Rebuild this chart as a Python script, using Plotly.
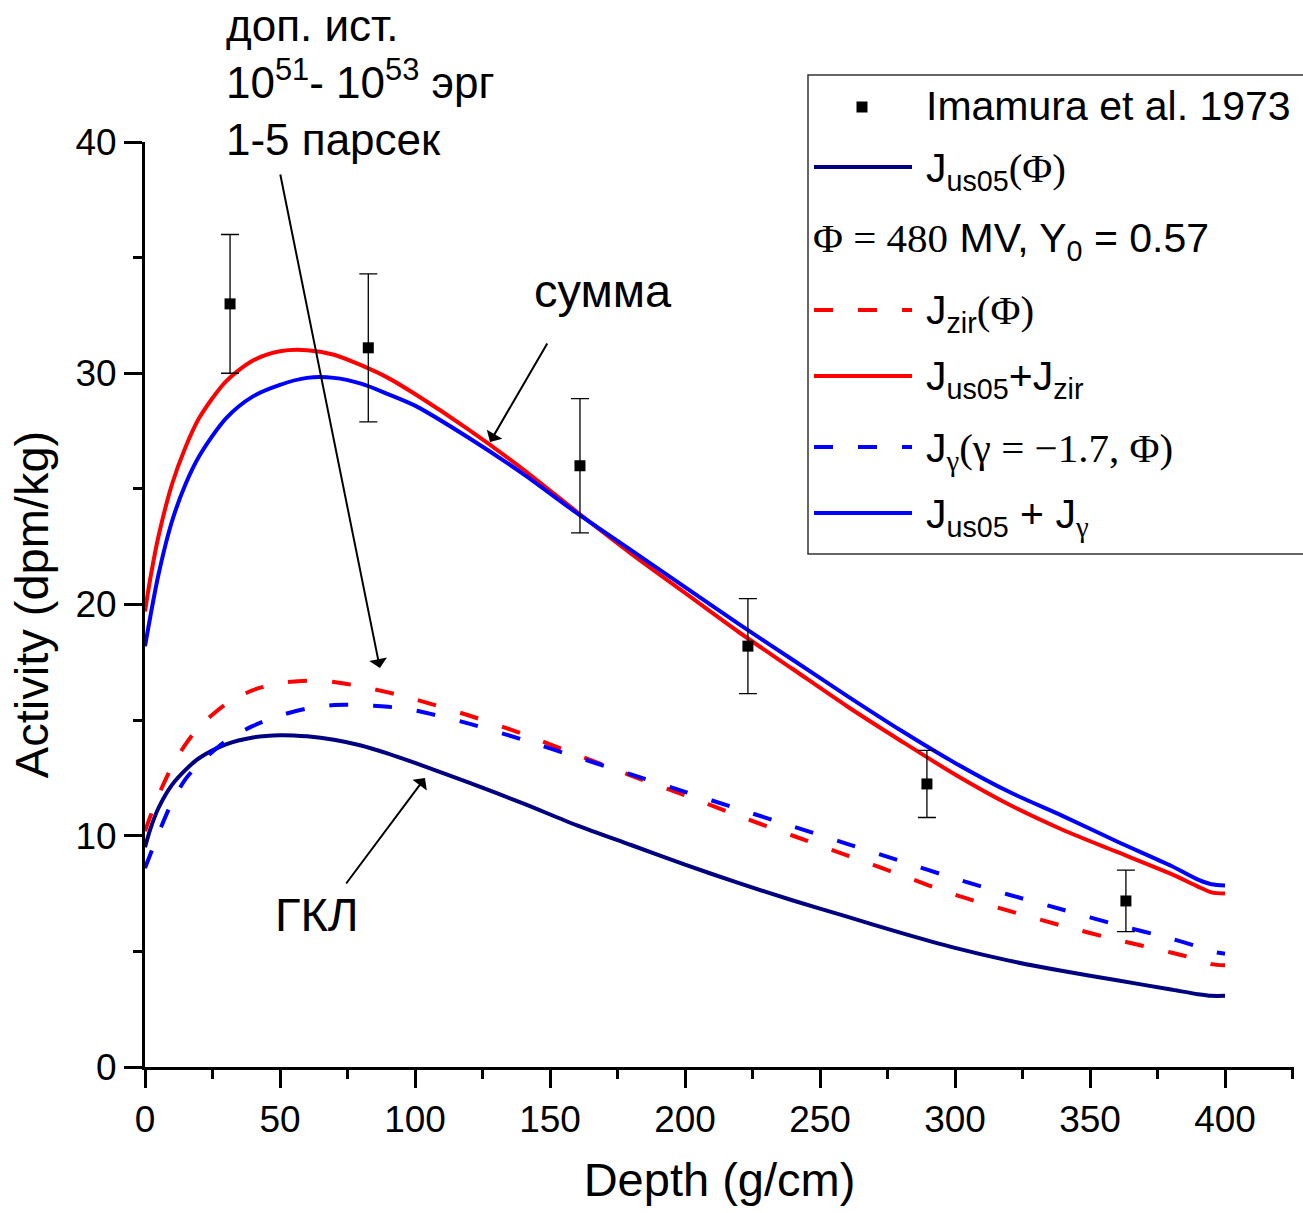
import plotly.graph_objects as go

# ---------------- data ----------------
depth = [0, 2, 5, 10, 15, 20, 30, 40, 50, 60, 70, 80, 90, 100, 120, 140, 160, 180,
         200, 220, 240, 260, 280, 300, 320, 340, 360, 380, 390, 395, 400]

act_us05 = [9.5, 10.3, 11.2, 12.2, 12.85, 13.35, 13.95, 14.25, 14.35, 14.3, 14.15, 13.9,
            13.55, 13.15, 12.3, 11.4, 10.45, 9.6, 8.75, 7.95, 7.2, 6.5, 5.8, 5.15, 4.6,
            4.15, 3.75, 3.35, 3.15, 3.08, 3.08]

act_zir = [10.2, 10.85, 11.75, 13.0, 13.95, 14.7, 15.7, 16.3, 16.6, 16.7, 16.65, 16.45,
           16.2, 15.9, 15.2, 14.4, 13.5, 12.6, 11.75, 10.85, 10.0, 9.15, 8.3, 7.45, 6.75,
           6.1, 5.5, 4.95, 4.65, 4.45, 4.4]

act_us05_zir = [19.7, 21.15, 22.95, 25.2, 26.8, 28.05, 29.65, 30.55, 30.95, 31.0, 30.8, 30.35,
                29.8, 29.1, 27.55, 25.85, 24.0, 22.2, 20.5, 18.8, 17.2, 15.6, 14.1, 12.65,
                11.35, 10.25, 9.3, 8.35, 7.8, 7.55, 7.5]

act_gamma = [8.6, 9.2, 10.1, 11.45, 12.45, 13.1, 14.1, 14.75, 15.2, 15.5, 15.65, 15.65,
             15.58, 15.42, 14.85, 14.15, 13.4, 12.65, 11.9, 11.15, 10.4, 9.65, 8.9, 8.15,
             7.45, 6.8, 6.15, 5.55, 5.2, 5.0, 4.9]

act_us05_gamma = [18.2, 19.5, 21.3, 23.6, 25.2, 26.4, 28.05, 29.0, 29.5, 29.8, 29.8, 29.55,
                  29.1, 28.6, 27.2, 25.65, 23.95, 22.35, 20.75, 19.15, 17.6, 16.05, 14.55,
                  13.15, 11.9, 10.85, 9.75, 8.7, 8.1, 7.9, 7.85]

imamura_depth = [31.5, 82.7, 161.1, 223.3, 289.6, 363.3]
imamura_activity = [33.0, 31.1, 26.0, 18.2, 12.24, 7.18]
imamura_err = [3.0, 3.2, 2.9, 2.05, 1.45, 1.33]

x_ticks = [0, 50, 100, 150, 200, 250, 300, 350, 400]
y_ticks = [0, 10, 20, 30, 40]

# ---------------- layout geometry ----------------
W, H = 1303, 1213
L, R, T, B = 145, 9, 142, 146
PW = W - L - R
PH = H - T - B

def px(x):
    return (x - L) / PW

def py(y):
    return (H - B - y) / PH

SANS = "Liberation Sans"
SERIF = "Liberation Serif"
NB = "\u00a0"

def serif(s):
    return f'<span style="font-family:{SERIF}">{s}</span>'

NAVY = "#000080"
RED = "#FF0000"
BLUE = "#0000FF"
DASH = "19px,25px"

fig = go.Figure()

curves = [
    (act_us05, NAVY, "solid"),
    (act_zir, RED, DASH),
    (act_us05_zir, RED, "solid"),
    (act_gamma, BLUE, DASH),
    (act_us05_gamma, BLUE, "solid"),
]
for vals, col, dash in curves:
    fig.add_trace(go.Scatter(
        x=depth, y=vals, mode="lines",
        line=dict(color=col, width=4, dash=dash, shape="spline", smoothing=0.8),
        showlegend=False, hoverinfo="skip"))

fig.add_trace(go.Scatter(
    x=imamura_depth, y=imamura_activity, mode="markers",
    marker=dict(symbol="square", size=11, color="black"),
    error_y=dict(type="data", array=imamura_err, visible=True,
                 color="black", thickness=1.3, width=9),
    showlegend=False))

axis_common = dict(
    showline=True, linewidth=3, linecolor="black",
    ticks="outside", ticklen=18, tickwidth=3, tickcolor="black",
    showgrid=False, zeroline=False,
    tickfont=dict(family=SANS, size=37, color="black"),
)

fig.update_xaxes(
    range=[0, PW / 2.7], tickvals=x_ticks, ticktext=[str(v) for v in x_ticks],
    minor=dict(dtick=25, tick0=0, ticks="outside", ticklen=9, tickwidth=3,
               tickcolor="black", showgrid=False),
    title=dict(text="Depth (g/cm)", font=dict(family=SANS, size=47, color="black"),
               standoff=24),
    **axis_common)
fig.update_yaxes(
    range=[0, 40], tickvals=y_ticks, ticktext=[str(v) for v in y_ticks],
    minor=dict(dtick=5, tick0=0, ticks="outside", ticklen=9, tickwidth=3,
               tickcolor="black", showgrid=False),
    title=dict(text="Activity (dpm/kg)", font=dict(family=SANS, size=47, color="black"),
               standoff=12),
    **axis_common)

shapes = []
annotations = []

# ---- legend box (custom) ----
shapes.append(dict(type="rect", xref="paper", yref="paper",
                   x0=px(808), x1=px(1320), y0=py(75), y1=py(554),
                   line=dict(color="#333333", width=1.5), fillcolor="white",
                   layer="above"))
shapes.append(dict(type="rect", xref="paper", yref="paper",
                   x0=px(856.5), x1=px(867.5), y0=py(101.5), y1=py(112.5),
                   line=dict(width=0), fillcolor="black", layer="above"))
leg_lines = [(167, NAVY, "solid"), (310, RED, DASH), (376, RED, "solid"),
             (447, BLUE, DASH), (513, BLUE, "solid")]
for yy, col, dash in leg_lines:
    shapes.append(dict(type="line", xref="paper", yref="paper",
                       x0=px(814), x1=px(912), y0=py(yy), y1=py(yy),
                       line=dict(color=col, width=4, dash=dash), layer="above"))

LF = 41
leg_rows = [
    (925, 120, "Imamura et al. 1973"),
    (925, 182, "J<sub>us05</sub>" + serif("(Φ)")),
    (812, 252, serif("Φ" + NB + "=" + NB + "480") + " MV, Y<sub>0</sub> = 0.57"),
    (925, 324, "J<sub>zir</sub>" + serif("(Φ)")),
    (925, 390, "J<sub>us05</sub>+J<sub>zir</sub>"),
    (925, 462, "J<sub>" + serif("γ") + "</sub>" + serif("(γ" + NB + "=" + NB + "−1.7, Φ)")),
    (925, 528, "J<sub>us05</sub> + J<sub>" + serif("γ") + "</sub>"),
]
for xx, base, txt in leg_rows:
    annotations.append(dict(
        xref="paper", yref="paper", x=px(xx), y=py(base - 0.905 * LF - 1),
        xanchor="left", yanchor="top", text=txt, showarrow=False,
        font=dict(family=SANS, size=LF, color="black"), borderpad=0))

# ---- text labels ----
BF = 47
annotations.append(dict(xref="paper", yref="paper", x=px(603), y=py(306 - 0.905 * BF - 1),
                        xanchor="center", yanchor="top", text="сумма", showarrow=False,
                        font=dict(family=SANS, size=BF, color="black")))
annotations.append(dict(xref="paper", yref="paper", x=px(317), y=py(930 - 0.905 * BF - 1),
                        xanchor="center", yanchor="top", text="ГКЛ", showarrow=False,
                        font=dict(family=SANS, size=BF, color="black")))
TF = 44
annotations.append(dict(xref="paper", yref="paper", x=px(225), y=py(41 - 0.905 * TF - 1),
                        xanchor="left", yanchor="top", align="left",
                        text="доп. ист.<br>10<sup>51</sup>- 10<sup>53</sup> эрг<br>1-5 парсек",
                        showarrow=False, borderpad=0,
                        font=dict(family=SANS, size=TF, color="black")))

# ---- arrows (tip, tail) in data units ----
arrows = [
    ((127.8, 27.03), (149.3, 31.35)),
    ((103.7, 12.5), (74.1, 7.87)),
    ((87.0, 17.25), (50.0, 38.66)),
]
for (tx, ty), (ax_, ay_) in arrows:
    annotations.append(dict(
        x=tx, y=ty, xref="x", yref="y", ax=ax_, ay=ay_, axref="x", ayref="y",
        text="", showarrow=True, arrowhead=1, arrowsize=1.5, arrowwidth=2,
        arrowcolor="black", standoff=0, startstandoff=0))

fig.update_layout(
    width=W, height=H,
    margin=dict(l=L, r=R, t=T, b=B, pad=0),
    paper_bgcolor="white", plot_bgcolor="white",
    font=dict(family=SANS, color="black"),
    showlegend=False,
    shapes=shapes, annotations=annotations,
)

fig.write_html("out.html")
